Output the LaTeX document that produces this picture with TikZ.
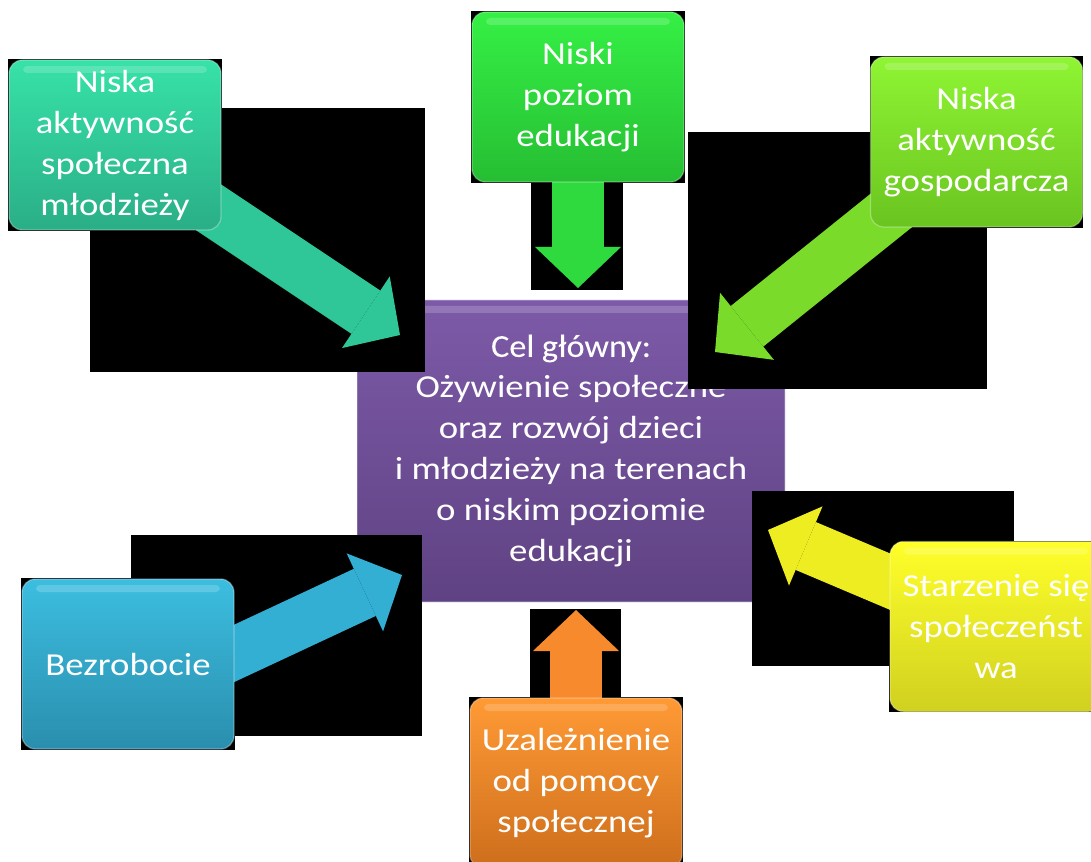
\documentclass[tikz,border=0pt]{standalone}
\usepackage{fontspec}
\setmainfont{Carlito}[FakeStretch=1.15]
\newfontfamily\titlefont{Carlito}[FakeStretch=1.07,FakeBold=1]
\usepackage{tikz}
\usetikzlibrary{arrows.meta,calc,positioning}

\pgfdeclarelayer{bg}
\pgfdeclarelayer{mid}
\pgfsetlayers{bg,mid,main}

\definecolor{tealTop}{HTML}{37E2A8}\definecolor{tealBot}{HTML}{2AAE86}\definecolor{tealArr}{HTML}{2FC797}
\definecolor{greenTop}{HTML}{35F045}\definecolor{greenBot}{HTML}{26BE33}\definecolor{greenArr}{HTML}{2FDA3F}
\definecolor{limeTop}{HTML}{8FF533}\definecolor{limeBot}{HTML}{6AC420}\definecolor{limeArr}{HTML}{7ADB2A}
\definecolor{blueTop}{HTML}{3CBEE0}\definecolor{blueBot}{HTML}{2A8EAE}\definecolor{blueArr}{HTML}{33AFD3}
\definecolor{yelTop}{HTML}{FFFF2A}\definecolor{yelBot}{HTML}{D0D020}\definecolor{yelArr}{HTML}{EDED22}
\definecolor{orTop}{HTML}{FF9A35}\definecolor{orBot}{HTML}{CD6E1C}\definecolor{orArr}{HTML}{F68A2C}
\definecolor{purTop}{HTML}{7D5AA8}\definecolor{purBot}{HTML}{5F4283}

\tikzset{
  box/.style={rectangle, rounded corners=10pt, minimum width=159pt, minimum height=127.5pt,
    inner sep=0pt, align=center, text=white, draw=white, draw opacity=.3, line width=1pt,
    font=\fontsize{24}{30.75}\selectfont,
    path picture={\fill[white,opacity=.18,rounded corners=3pt]
      ([shift={(14,6)}]path picture bounding box.north west) rectangle
      ([shift={(-14,13)}]path picture bounding box.north east);}},
  fat/.style={line width=39pt, -{Triangle[length=30.75pt,width=64.5pt,line width=0pt]}},
}

\begin{document}
\begin{tikzpicture}[x=0.75pt,y=-0.75pt]
\useasboundingbox (0,0) rectangle (1091,862);
% outer boxes
\node[box, top color=tealTop, bottom color=tealBot]   (mlodziez)   at (115,145)   {Niska\\aktywność\\społeczna\\młodzieży};
\node[box, top color=greenTop, bottom color=greenBot] (edukacja)   at (578,97)    {Niski\\poziom\\edukacji};
\node[box, top color=limeTop, bottom color=limeBot]   (gospodarka) at (976.5,142) {Niska\\aktywność\\gospodarcza};
\node[box, top color=blueTop, bottom color=blueBot]   (bezrobocie) at (128,664)   {Bezrobocie};
\node[box, top color=yelTop, bottom color=yelBot]     (starzenie)  at (996,626.5) {Starzenie się\\społeczeńst\\wa};
\node[box, top color=orTop, bottom color=orBot]       (pomoc)      at (576,783)   {Uzależnienie\\od pomocy\\społecznej};

\begin{pgfonlayer}{bg}
\fill[white] (0,0) rectangle (1091,862);
\foreach \n in {mlodziez,edukacja,gospodarka,bezrobocie,starzenie,pomoc}
  \fill[black] (\n.north west) rectangle (\n.south east);
\node[box, top color=purTop, bottom color=purBot, minimum width=321pt, minimum height=226.5pt, rounded corners=11pt]
  (cel) at (571,451) {{\titlefont Cel główny:}\\Ożywienie społeczne\\oraz rozwój dzieci\\i młodzieży na terenach\\o niskim poziomie\\edukacji};
\end{pgfonlayer}

\begin{pgfonlayer}{mid}
\fill[black] (90,108) rectangle (425,372);
\fill[black] (531,150) rectangle (623,290);
\fill[black] (688,132) rectangle (987,389);
\fill[black] (131,535) rectangle (422,736);
\fill[black] (752,491) rectangle (1014,666);
\fill[black] (530,609) rectangle (621,720);
\coordinate (toCelA) at (400,335);
\coordinate (toCelB) at (578,288);
\coordinate (toCelC) at (715,352);
\coordinate (toCelD) at (402,575);
\coordinate (toCelE) at (768,530);
\coordinate (toCelF) at (576,610);
\draw[fat, tealArr]  (mlodziez.center)   -- (toCelA);
\draw[fat, greenArr] (edukacja.center)   -- (toCelB);
\draw[fat, limeArr]  (gospodarka.center) -- (toCelC);
\draw[fat, blueArr]  ([shift={(0,39)}]bezrobocie.center) -- (toCelD);
\draw[fat, yelArr]   (starzenie.center)  -- (toCelE);
\draw[fat, orArr]    (pomoc.center)      -- (toCelF);
\end{pgfonlayer}
\end{tikzpicture}
\end{document}
